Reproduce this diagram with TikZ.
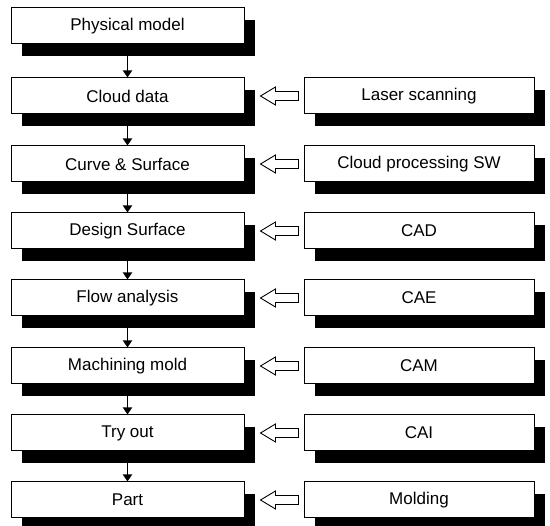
\documentclass[tikz,border=0pt]{standalone}
\usepackage{fontspec}
\setmainfont{Liberation Sans}
\usetikzlibrary{arrows.meta, positioning, calc, shadows}

\begin{document}
\begin{tikzpicture}[
    x=1pt, y=1pt,
    box/.style={rectangle, draw, line width=1pt, fill=white, minimum height=36pt,
      font=\fontsize{17}{19}\selectfont,
      drop shadow={shadow xshift=11pt, shadow yshift=-12pt, fill=black, opacity=1}},
    stage/.style={box, minimum width=233pt},
    tool/.style={box, minimum width=230pt},
    flow/.style={-{Triangle[length=7pt, width=9pt]}, line width=1.8pt},
    hollow/.style={line width=0.9pt, fill=white, line join=miter}
]
  \useasboundingbox (0,0) rectangle (550,-526);

  % Process stages
  \node[stage] (model) at (127.5,-26) {Physical model};
  \node[stage] (cloud) at (127.5,-96) {Cloud data};
  \node[stage] (curve) at (127.5,-164) {Curve \& Surface};
  \node[stage] (design) at (127.5,-231) {Design Surface};
  \node[stage] (flowan) at (127.5,-298) {Flow analysis};
  \node[stage] (mold) at (127.5,-366) {Machining mold};
  \node[stage] (tryout) at (127.5,-433) {Try out};
  \node[stage] (part) at (127.5,-500) {Part};

  % Tools
  \node[tool] (laser) at (419,-96) {Laser scanning};
  \node[tool] (cpsw) at (419,-164) {Cloud processing SW};
  \node[tool] (cad) at (419,-231) {CAD};
  \node[tool] (cae) at (419,-298) {CAE};
  \node[tool] (cam) at (419,-366) {CAM};
  \node[tool] (cai) at (419,-433) {CAI};
  \node[tool] (molding) at (419,-500) {Molding};

  % Process flow
  \foreach \a/\b in {model/cloud, cloud/curve, curve/design, design/flowan,
                     flowan/mold, mold/tryout, tryout/part}
    \draw[flow] (\a.south) -- (\b.north);

  % Hollow arrows from tools
  \foreach \a/\b in {laser/cloud, cpsw/curve, cad/design, cae/flowan,
                     cam/mold, cai/tryout, molding/part}
    \draw[hollow] ($(\a.west)+(-5,4.5)$) -- ($(\b.east)+(31,4.5)$)
      -- ($(\b.east)+(31,9)$) -- ($(\b.east)+(16,0)$) -- ($(\b.east)+(31,-9)$)
      -- ($(\b.east)+(31,-4.5)$) -- ($(\a.west)+(-5,-4.5)$) -- cycle;
\end{tikzpicture}
\end{document}
